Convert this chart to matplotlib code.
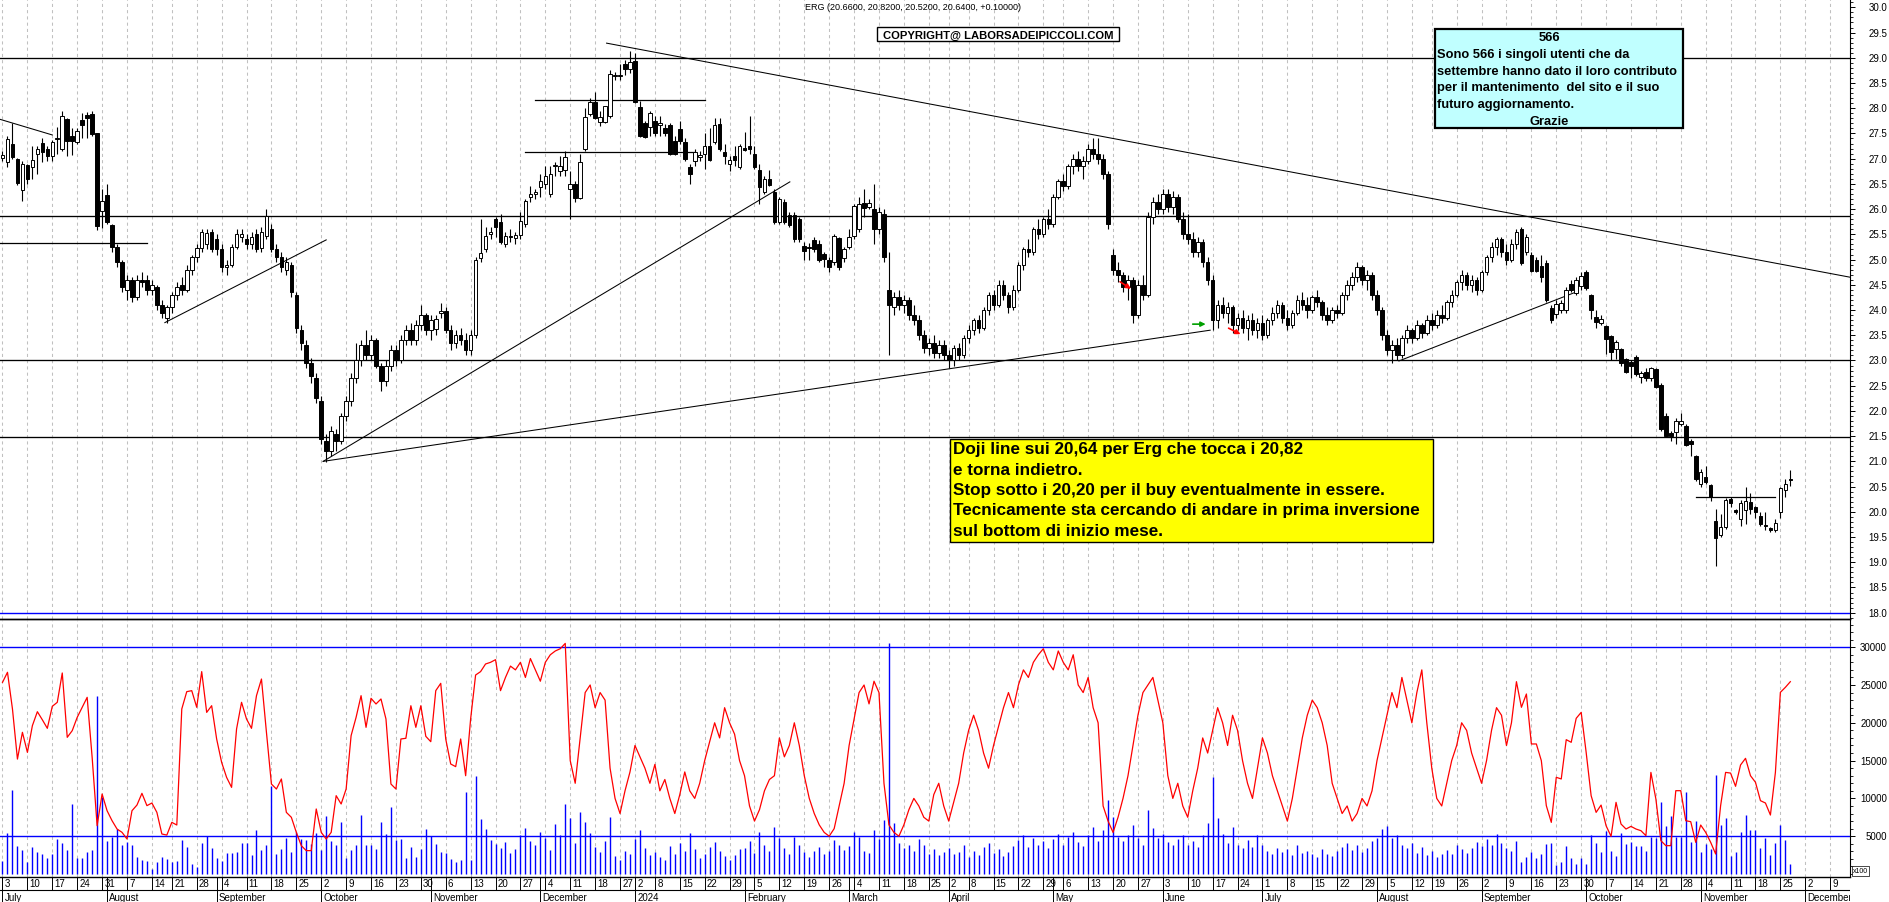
import matplotlib
matplotlib.use("Agg")
import matplotlib.pyplot as plt
import matplotlib.transforms as mtransforms
from matplotlib.patches import Rectangle
from matplotlib.ticker import MultipleLocator, FixedLocator
import numpy as np
import pandas as pd

plt.rcParams['font.family'] = ['Liberation Sans', 'DejaVu Sans']

W, H = 1890, 903

# ---- daily ERG candles, 3 Jul 2023 .. 27 Nov 2024 (one line per month) ----
opens = [
    27.02, 26.93, 27.29, 27.00, 26.37, 26.87, 26.84, 27.10, 27.32, 27.20, 27.05, 27.38, 27.19, 27.78, 27.45, 27.33, 27.76, 27.87, 27.88, 27.50, 25.96,
    26.28, 25.68, 25.25, 24.95, 24.40, 24.60, 24.25, 24.60, 24.60, 24.40, 24.45, 24.10, 23.85, 24.05, 24.30, 24.50, 24.40, 24.80, 25.05, 25.22, 25.30, 25.55,
    25.40, 25.20, 24.85, 24.90, 25.25, 25.45, 25.40, 25.30, 25.50, 25.22, 25.47, 25.60, 25.20, 25.05, 24.80, 24.90, 24.30, 23.60, 23.30, 22.95, 22.65,
    22.20, 21.40, 21.20, 21.55, 21.40, 21.90, 22.20, 22.65, 23.00, 23.30, 23.10, 23.40, 22.90, 22.60, 22.90, 23.20, 23.00, 23.40, 23.60, 23.40, 23.70, 23.90,
    23.60, 23.62, 23.95, 23.98, 23.60, 23.35, 23.50, 23.40, 23.20, 23.50, 25.03, 25.20, 25.50, 25.80, 25.74, 25.30, 25.46, 25.42, 25.49, 25.70, 26.25, 26.30,
    26.43, 26.50, 26.30, 26.86, 26.75, 26.77, 26.40, 26.50, 26.22, 27.20, 27.88, 28.12, 27.72, 27.73, 27.84, 28.64, 28.64, 28.88, 28.78,
    28.94, 28.02, 27.70, 27.63, 27.75, 27.66, 27.60, 27.67, 27.36, 27.58, 27.33, 26.83, 26.95, 27.03, 27.10, 27.25, 27.33, 27.69, 27.14, 26.90, 27.06, 26.83,
    27.22, 27.25, 27.10, 26.78, 26.34, 26.60, 26.34, 25.74, 26.14, 25.88, 25.88, 25.80, 25.27, 25.25, 25.38, 25.30, 25.12, 25.00, 24.95, 25.43, 25.03,
    25.25, 25.47, 25.60, 26.13, 26.05, 26.00, 25.60, 25.90, 24.40, 24.05, 24.25, 24.10, 24.20, 23.90, 23.80, 23.50, 23.25, 23.35, 23.15, 23.30,
    23.10, 23.00, 23.25, 23.10, 23.45, 23.60, 23.80, 23.65, 24.00, 24.30, 24.10, 24.50, 24.30, 24.05, 24.40, 24.90, 25.20, 25.15, 25.60, 25.50, 25.80,
    25.70, 26.25, 26.55, 26.45, 26.85, 27.00, 26.85, 26.95, 27.20, 27.10, 27.00, 26.70, 25.10, 24.80, 24.70, 24.45, 24.60, 23.90, 24.50, 24.30, 25.85, 26.15,
    26.00, 26.30, 26.05, 26.25, 25.80, 25.50, 25.40, 25.15, 25.35, 24.95, 24.60, 23.80, 24.10, 23.95, 24.05, 23.70, 23.85, 23.65, 23.80, 23.60,
    23.75, 23.50, 23.80, 23.95, 24.10, 23.85, 23.70, 23.95, 24.20, 24.10, 24.00, 24.25, 24.15, 23.90, 23.80, 24.00, 23.95, 24.30, 24.50, 24.65, 24.85, 24.60, 24.70,
    24.30, 24.00, 23.50, 23.20, 23.30, 23.10, 23.45, 23.60, 23.45, 23.70, 23.55, 23.80, 23.70, 23.90, 23.85, 24.15, 24.30, 24.55, 24.70, 24.50, 24.60,
    24.40, 24.75, 25.05, 25.25, 25.40, 25.15, 25.00, 25.30, 25.60, 25.15, 25.10, 25.00, 24.87, 24.94, 24.04, 23.92, 24.00, 24.00, 24.52, 24.33, 24.47,
    24.75, 24.30, 23.86, 23.75, 23.68, 23.48, 23.22, 23.22, 23.02, 22.97, 23.07, 22.68, 22.77, 22.66, 22.84, 22.52, 21.90, 21.56, 21.58, 21.75, 21.70, 21.40, 21.10,
    20.55, 20.69, 20.53, 19.82, 19.55, 19.70, 20.25, 20.03, 19.86, 20.04, 20.20, 20.10, 19.92, 19.74, 19.68, 19.63, 20.00, 20.43, 20.66,
]
highs = [
    27.15, 27.45, 27.70, 27.02, 26.95, 26.90, 27.25, 27.25, 27.40, 27.25, 27.37, 27.63, 27.95, 27.80, 27.60, 27.60, 27.90, 27.92, 27.95, 27.50, 26.40,
    26.50, 25.70, 25.30, 25.00, 24.70, 24.65, 24.70, 24.75, 24.70, 24.60, 24.50, 24.20, 24.10, 24.35, 24.55, 24.65, 24.90, 25.10, 25.30, 25.60, 25.60, 25.60,
    25.50, 25.30, 25.00, 25.30, 25.60, 25.60, 25.50, 25.55, 25.60, 25.65, 26.00, 25.70, 25.30, 25.15, 25.05, 24.95, 24.35, 23.70, 23.40, 23.05, 22.75,
    22.30, 21.55, 21.70, 21.65, 21.95, 22.30, 22.75, 23.35, 23.40, 23.60, 23.50, 23.45, 22.95, 23.00, 23.30, 23.30, 23.50, 23.70, 23.75, 23.80, 24.10, 23.95,
    23.90, 23.90, 24.13, 24.05, 23.70, 23.60, 23.65, 23.55, 23.60, 25.05, 25.80, 25.65, 25.65, 25.85, 25.90, 25.55, 25.60, 25.55, 25.95, 26.20, 26.45, 26.40,
    26.70, 26.85, 26.85, 26.93, 27.05, 27.15, 26.75, 26.55, 27.10, 28.00, 28.20, 28.33, 27.95, 28.05, 28.75, 28.72, 28.88, 28.95, 29.13,
    29.10, 28.15, 27.75, 27.95, 27.85, 27.85, 27.68, 27.70, 27.45, 27.75, 27.40, 26.90, 27.20, 27.15, 27.50, 27.60, 27.80, 27.80, 27.30, 27.05, 27.25, 27.30,
    27.52, 27.85, 27.25, 26.90, 26.65, 26.78, 26.40, 26.25, 26.20, 25.95, 25.95, 25.85, 25.35, 25.33, 25.45, 25.38, 25.15, 25.05, 25.50, 25.45, 25.25,
    25.60, 26.10, 26.25, 26.40, 26.20, 26.50, 26.05, 26.00, 25.15, 24.35, 24.40, 24.30, 24.25, 24.10, 23.90, 23.60, 23.45, 23.50, 23.40, 23.40,
    23.20, 23.30, 23.35, 23.50, 23.70, 23.85, 23.90, 24.05, 24.35, 24.40, 24.60, 24.60, 24.35, 24.50, 24.95, 25.25, 25.40, 25.65, 25.80, 25.85, 26.00,
    26.30, 26.60, 26.70, 26.90, 27.10, 27.15, 27.05, 27.30, 27.40, 27.40, 27.10, 26.75, 25.20, 24.95, 24.75, 24.70, 24.65, 24.60, 24.70, 25.95, 26.25, 26.30,
    26.40, 26.40, 26.35, 26.30, 25.95, 25.90, 25.55, 25.45, 25.40, 25.05, 24.70, 24.20, 24.25, 24.15, 24.10, 23.95, 24.00, 23.90, 23.95, 23.85,
    23.90, 23.85, 24.05, 24.20, 24.15, 24.00, 24.00, 24.30, 24.35, 24.25, 24.30, 24.40, 24.20, 24.05, 24.05, 24.10, 24.35, 24.60, 24.75, 24.95, 24.90, 24.80, 24.75,
    24.40, 24.05, 23.60, 23.40, 23.45, 23.50, 23.70, 23.65, 23.80, 23.75, 23.90, 23.95, 24.00, 24.10, 24.20, 24.40, 24.60, 24.80, 24.75, 24.70, 24.65,
    24.80, 25.10, 25.35, 25.45, 25.45, 25.30, 25.40, 25.60, 25.65, 25.50, 25.15, 25.05, 25.10, 25.00, 24.10, 24.20, 24.20, 24.45, 24.60, 24.65, 24.75,
    24.80, 24.32, 24.00, 23.90, 23.70, 23.50, 23.40, 23.25, 23.05, 23.01, 23.10, 22.80, 22.85, 22.88, 22.86, 22.55, 21.95, 21.60, 21.85, 21.95, 21.75, 21.45, 21.12,
    20.85, 20.90, 20.55, 20.05, 19.95, 20.28, 20.30, 20.05, 20.23, 20.50, 20.38, 20.12, 20.00, 20.00, 19.70, 19.85, 20.50, 20.65, 20.82,
]
lows = [
    26.95, 26.83, 27.00, 26.48, 26.16, 26.50, 26.60, 26.70, 26.94, 26.95, 26.95, 27.10, 27.15, 27.06, 27.07, 27.30, 27.40, 27.40, 27.45, 25.58, 25.62,
    25.70, 25.15, 24.85, 24.35, 24.20, 24.15, 24.20, 24.45, 24.30, 24.30, 24.00, 23.85, 23.75, 23.95, 24.20, 24.30, 24.35, 24.70, 24.95, 25.15, 25.20, 25.15,
    25.10, 24.75, 24.70, 24.85, 25.20, 25.35, 25.20, 25.20, 25.15, 25.15, 25.40, 25.15, 24.95, 24.75, 24.70, 24.25, 23.55, 23.20, 22.85, 22.55, 22.15,
    21.35, 20.98, 21.10, 21.20, 21.35, 21.80, 22.10, 22.55, 22.90, 23.00, 23.00, 22.85, 22.40, 22.50, 22.80, 22.90, 22.95, 23.30, 23.30, 23.30, 23.60, 23.50,
    23.40, 23.50, 23.85, 23.55, 23.20, 23.25, 23.30, 23.10, 23.10, 23.45, 24.95, 25.15, 25.40, 25.45, 25.30, 25.25, 25.35, 25.30, 25.40, 25.65, 26.15, 26.20,
    26.25, 26.40, 26.25, 26.65, 26.65, 26.65, 25.80, 26.15, 26.20, 27.15, 27.85, 27.78, 27.65, 27.70, 27.80, 28.55, 28.55, 28.65, 28.70,
    28.10, 27.42, 27.40, 27.45, 27.45, 27.45, 27.45, 27.08, 27.08, 27.30, 26.95, 26.50, 26.85, 26.95, 26.80, 26.95, 27.30, 27.15, 26.90, 26.75, 26.85, 26.80,
    27.15, 27.10, 26.80, 26.10, 26.30, 26.45, 25.70, 25.70, 25.70, 25.65, 25.35, 25.35, 25.00, 25.00, 25.15, 24.95, 24.85, 24.75, 24.90, 24.80, 24.95,
    25.20, 25.40, 25.55, 25.85, 26.00, 25.30, 25.50, 24.95, 23.10, 23.90, 24.00, 23.95, 23.80, 23.70, 23.40, 23.15, 23.10, 23.05, 23.05, 23.00,
    22.85, 22.90, 23.00, 23.05, 23.35, 23.50, 23.55, 23.60, 23.90, 24.00, 24.05, 24.20, 23.95, 24.00, 24.35, 24.80, 25.05, 25.10, 25.40, 25.45, 25.60,
    25.65, 26.20, 26.35, 26.40, 26.70, 26.75, 26.60, 26.90, 27.00, 26.90, 26.60, 25.60, 24.70, 24.55, 24.35, 24.20, 23.75, 23.85, 24.20, 24.25, 25.70, 25.90,
    25.90, 25.95, 25.90, 25.75, 25.40, 25.30, 25.05, 25.05, 24.85, 24.50, 23.60, 23.65, 23.85, 23.75, 23.55, 23.60, 23.55, 23.40, 23.50, 23.45,
    23.40, 23.45, 23.70, 23.85, 23.75, 23.60, 23.65, 23.90, 24.00, 23.85, 23.95, 24.05, 23.80, 23.70, 23.75, 23.85, 23.90, 24.20, 24.40, 24.55, 24.50, 24.40, 24.20,
    23.90, 23.40, 23.10, 22.95, 23.00, 23.05, 23.35, 23.35, 23.40, 23.45, 23.50, 23.60, 23.65, 23.75, 23.80, 24.05, 24.25, 24.40, 24.40, 24.35, 24.30,
    24.35, 24.70, 24.95, 25.10, 25.05, 24.90, 24.95, 25.20, 24.90, 25.10, 24.75, 24.75, 24.55, 24.15, 23.75, 23.85, 23.95, 23.95, 24.35, 24.30, 24.40,
    24.40, 23.82, 23.65, 23.70, 23.12, 23.00, 23.02, 22.90, 22.75, 22.65, 22.70, 22.55, 22.60, 22.60, 22.45, 21.60, 21.48, 21.40, 21.35, 21.70, 21.30, 21.10, 20.62,
    20.50, 20.55, 20.22, 18.92, 19.50, 19.65, 20.10, 19.95, 19.72, 19.75, 19.95, 19.87, 19.72, 19.63, 19.60, 19.60, 19.88, 20.30, 20.52,
]
closes = [
    27.08, 27.39, 27.03, 26.52, 26.90, 26.60, 26.97, 27.20, 27.13, 27.05, 27.33, 27.40, 27.84, 27.36, 27.36, 27.54, 27.67, 27.80, 27.49, 25.66, 26.16,
    25.74, 25.25, 24.95, 24.45, 24.60, 24.25, 24.60, 24.55, 24.40, 24.50, 24.10, 23.95, 24.05, 24.30, 24.45, 24.40, 24.80, 25.05, 25.22, 25.55, 25.52, 25.20,
    25.20, 24.85, 24.90, 25.25, 25.50, 25.50, 25.30, 25.45, 25.20, 25.55, 25.86, 25.20, 25.05, 24.85, 24.95, 24.35, 23.65, 23.35, 22.95, 22.70, 22.25,
    21.45, 21.20, 21.60, 21.40, 21.90, 22.20, 22.65, 23.00, 23.30, 23.10, 23.40, 22.90, 22.60, 22.90, 23.20, 23.00, 23.40, 23.60, 23.40, 23.70, 23.90, 23.60,
    23.80, 23.82, 23.98, 23.60, 23.35, 23.50, 23.40, 23.20, 23.50, 25.00, 25.13, 25.46, 25.55, 25.64, 25.35, 25.46, 25.44, 25.48, 25.77, 26.17, 26.30, 26.33,
    26.56, 26.65, 26.70, 26.86, 26.85, 27.03, 26.50, 26.22, 26.93, 27.82, 28.12, 27.80, 27.82, 28.04, 28.68, 28.64, 28.66, 28.78, 28.91,
    28.12, 27.45, 27.43, 27.90, 27.50, 27.70, 27.50, 27.10, 27.10, 27.35, 27.00, 26.70, 27.13, 27.07, 27.25, 26.98, 27.66, 27.19, 27.06, 26.97, 26.98, 27.25,
    27.18, 27.20, 26.83, 26.44, 26.60, 26.47, 25.74, 26.20, 25.74, 25.68, 25.40, 25.40, 25.17, 25.22, 25.20, 25.00, 25.02, 24.85, 25.47, 24.85, 25.20,
    25.45, 26.07, 26.10, 26.03, 26.12, 25.60, 25.95, 25.05, 24.10, 24.25, 24.10, 24.20, 23.90, 23.80, 23.50, 23.25, 23.35, 23.15, 23.30, 23.10,
    23.00, 23.25, 23.10, 23.45, 23.60, 23.80, 23.65, 24.00, 24.30, 24.10, 24.50, 24.30, 24.05, 24.40, 24.90, 25.20, 25.15, 25.60, 25.50, 25.80, 25.70,
    26.25, 26.55, 26.45, 26.85, 27.00, 26.85, 26.95, 27.20, 27.10, 27.00, 26.70, 25.70, 24.80, 24.70, 24.45, 24.60, 23.90, 24.50, 24.30, 25.85, 26.15, 26.00,
    26.30, 26.05, 26.25, 25.80, 25.50, 25.40, 25.15, 25.35, 24.95, 24.60, 23.80, 24.10, 23.95, 24.05, 23.70, 23.85, 23.65, 23.80, 23.60, 23.75,
    23.50, 23.80, 23.95, 24.10, 23.85, 23.70, 23.95, 24.20, 24.10, 24.00, 24.25, 24.15, 23.90, 23.80, 24.00, 23.95, 24.30, 24.50, 24.65, 24.85, 24.60, 24.70, 24.30,
    24.00, 23.50, 23.20, 23.30, 23.10, 23.45, 23.60, 23.45, 23.70, 23.55, 23.80, 23.70, 23.90, 23.85, 24.15, 24.30, 24.55, 24.70, 24.50, 24.60, 24.40,
    24.75, 25.05, 25.25, 25.40, 25.15, 25.00, 25.30, 25.55, 24.94, 25.44, 24.77, 24.77, 24.65, 24.20, 23.80, 24.12, 24.14, 24.40, 24.40, 24.60, 24.67,
    24.44, 24.00, 23.76, 23.83, 23.43, 23.16, 23.36, 22.95, 22.78, 22.90, 22.73, 22.75, 22.65, 22.85, 22.48, 21.64, 21.50, 21.50, 21.80, 21.80, 21.33, 21.35, 20.65,
    20.79, 20.60, 20.29, 19.48, 19.70, 20.23, 20.18, 20.00, 20.18, 20.22, 20.05, 20.00, 19.75, 19.72, 19.63, 19.77, 20.47, 20.55, 20.64,
]
# volume (x100), blue bars
volume = [
    1760, 5380, 11110, 3750, 3170, 1540, 3530, 2870, 2650, 2070, 2650, 4630, 4100, 3220, 9260, 2110, 2110, 2960, 3220, 23590, 10140,
    4410, 4850, 5950, 3840, 4190, 3840, 2200, 1850, 1680, 660, 1540, 2200, 1980, 1630, 1760, 4540, 3620, 1320, 970, 4100, 5070, 3390,
    2110, 1760, 2780, 2780, 2960, 4100, 4100, 2510, 5820, 3220, 3840, 11680, 2650, 3310, 4760, 2960, 5600, 4630, 4500, 3970, 5380,
    3170, 7720, 4410, 3840, 6920, 2110, 3170, 3840, 7800, 3840, 3840, 3310, 6830, 5290, 8820, 4540, 4630, 2110, 3620, 2290, 3310, 5950,
    5070, 3970, 2870, 2780, 1980, 1630, 1900, 10890, 1900, 13000, 7280, 5950, 4540, 3970, 3500, 4200, 2800, 3300, 5200, 6100, 4400, 3900,
    5600, 4800, 3200, 6600, 5200, 9300, 7400, 4100, 8200, 6900, 5400, 3600, 2900, 4300, 7600, 2400, 1900, 3100, 2600,
    4600, 5800, 3400, 2500, 2900, 2200, 1800, 3700, 2600, 4100, 3000, 5400, 3300, 2100, 2700, 3600, 4200, 3100, 2400, 1900, 2500, 3300,
    3500, 4400, 2800, 5600, 3900, 3000, 6200, 4700, 3400, 2700, 4900, 3800, 2900, 2300, 3100, 3600, 2600, 3000, 4500, 3900, 3200,
    3700, 5500, 4900, 3100, 2800, 5800, 4600, 7200, 30500, 6800, 4100, 3500, 3900, 3000, 4600, 3800, 2700, 3300, 2500, 2900,
    3400, 2600, 2900, 3800, 2200, 3100, 2500, 3600, 4100, 2800, 3300, 2400, 2900, 3700, 4500, 5200, 3600, 4800, 3900, 4300, 3500,
    4600, 5300, 3800, 4900, 5600, 4200, 3700, 5100, 6200, 4400, 5800, 9800, 7600, 4900, 4300, 5200, 6500, 4700, 3900, 8400, 6100, 4800,
    5300, 4200, 3800, 4600, 5100, 3900, 4400, 3600, 5200, 6800, 12800, 7400, 5300, 4100, 6200, 3900, 3400, 4500, 3600, 5100,
    3900, 3100, 2700, 3500, 2900, 3300, 2500, 3800, 2800, 3100, 2600, 2200, 3300, 2700, 2400, 3000, 3600, 4100, 3200, 3800, 2900, 3500, 4300,
    4800, 5900, 6300, 4700, 5200, 3900, 3400, 4100, 2800, 3600, 2500, 3000, 2200, 2600, 3200, 2700, 3900, 3300, 2800, 3400, 4200,
    3700, 4600, 3900, 5300, 4100, 3500, 3000, 4400, 1540, 2200, 2870, 2070, 2650, 3970, 4100, 1190, 1630, 3750, 2070, 1320, 2070,
    1320, 5150, 4100, 2960, 5730, 3090, 2420, 5420, 3970, 4280, 3750, 3750, 3090, 4940, 4720, 9480, 6300, 7720, 4940, 4850, 10800, 4190, 7050,
    2960, 3970, 3310, 13090, 6480, 7360, 2400, 2960, 5600, 7800, 5820, 5820, 3440, 4720, 2510, 4100, 6480, 4540, 1320,
]
# red line in the volume pane
vol_line = [
    25350, 26680, 21830, 15200, 18740, 16090, 19620, 21470, 20400, 19270, 22180, 22710, 26590, 18080, 18960, 20720, 22050, 23370, 15430, 6390, 10580,
    8370, 7050, 5950, 5510, 4630, 8370, 9120, 10670, 9040, 9390, 8150, 5290, 5150, 6830, 6480, 21830, 24120, 24250, 22050, 26770, 21380, 22260,
    17860, 14770, 12780, 11460, 19180, 22710, 20500, 19270, 23590, 25790, 18740, 11900, 11240, 12570, 8150, 7500, 5510, 3750, 3090, 3090, 8600,
    5510, 4630, 5510, 10360, 9260, 11240, 18300, 20720, 23590, 19400, 23240, 22490, 23150, 20500, 11900, 11240, 17860, 17950, 22260, 19400, 22260, 18210,
    17500, 24250, 25220, 17860, 14550, 14200, 17860, 13000, 20500, 26320, 26770, 27780, 28000, 28350, 24250, 26000, 27500, 27000, 28000, 26000, 28500, 27000,
    25500, 28000, 29000, 29500, 29800, 30500, 15000, 12000, 18000, 24000, 25000, 22000, 24000, 23000, 14000, 10000, 8000, 11000, 13500,
    17000, 15500, 14000, 12000, 14500, 11000, 12500, 10000, 8000, 10500, 13500, 11000, 10000, 12000, 15000, 17500, 20000, 18000, 22000, 20000, 18500, 15000,
    13000, 9000, 7000, 8500, 11000, 12500, 13000, 18000, 15500, 17000, 20000, 17000, 13000, 10000, 8000, 6500, 5500, 5000, 6000, 9000, 12000,
    17000, 20500, 24000, 25000, 22500, 25500, 24000, 12000, 6500, 5500, 5000, 6500, 8500, 10000, 9000, 7500, 7000, 10500, 12000, 9000,
    7000, 9500, 12000, 16000, 19000, 21000, 19000, 16000, 14000, 17000, 19500, 22000, 24000, 22000, 25000, 27000, 26000, 28000, 29000, 29800, 28000,
    27000, 29500, 28000, 27000, 29000, 25000, 24000, 26000, 22000, 20000, 9000, 7000, 5500, 7500, 10000, 13000, 17000, 21000, 24000, 25000, 26000, 23000,
    20000, 13000, 10000, 12000, 9000, 7500, 11000, 14000, 18000, 16000, 19000, 22000, 20000, 17000, 21000, 19000, 15000, 12000, 10000, 14000,
    18000, 16000, 13000, 11000, 9000, 7000, 10000, 14000, 18000, 21000, 23000, 22000, 20000, 17000, 12000, 10000, 8000, 9000, 7000, 8000, 10000, 9000, 11000,
    15000, 18000, 21000, 24000, 22000, 26000, 23000, 20000, 24000, 27000, 20000, 14000, 10000, 9000, 12000, 15000, 17000, 20000, 19000, 16000, 14000,
    12000, 15000, 19000, 22000, 21000, 17000, 20000, 25440, 22050, 23810, 17200, 17200, 14990, 9040, 6830, 12790, 12570, 17770, 17420, 20590, 21380,
    16090, 10360, 8150, 9120, 6390, 4980, 9480, 6610, 5950, 6300, 5950, 5730, 5070, 13440, 9920, 4410, 3750, 3750, 11020, 11020, 7050, 6920, 4190,
    6480, 5510, 4190, 2650, 9040, 13440, 13350, 11600, 14420, 15300, 13000, 12130, 9700, 9390, 7800, 13440, 24030, 24690, 25440,
]

# drawn analysis lines (slot index, price)
levels = [28.99, 25.86, 23.0, 21.48]
short_levels = [(-0.5, 29, 25.33), (107, 141, 28.16), (105, 139, 27.13), (340, 356, 20.29)]
trend_lines = [((-0.5, 27.78), (10, 27.47)),
               ((32.6, 23.75), (65, 25.39)),
               ((64.4, 21.0), (158.1, 26.54)),
               ((64.4, 21.0), (242.5, 23.6)),
               ((121.3, 29.29), (371, 24.65)),
               ((280.4, 22.99), (315.8, 24.35))]

month_names = ['January', 'February', 'March', 'April', 'May', 'June', 'July',
               'August', 'September', 'October', 'November', 'December']

# Borsa Italiana trading calendar
closed = pd.to_datetime(['2023-08-15', '2023-12-25', '2023-12-26', '2024-01-01',
                         '2024-03-29', '2024-04-01', '2024-05-01', '2024-08-15'])
cal = pd.bdate_range('2023-07-03', '2024-12-13')
cal = cal[~cal.isin(closed)]

x = np.arange(len(closes))
o, h, l, c = (np.array(v) for v in (opens, highs, lows, closes))

def fx(px):
    return px / W

def fy(py):
    return 1 - py / H

XL = (-0.502, 370.98)
fig = plt.figure(figsize=(W / 100, H / 100), dpi=100)
ax = fig.add_axes([0, fy(620), fx(1850), 620 / H])
axv = fig.add_axes([0, fy(878), fx(1850), 258 / H])
axd = fig.add_axes([0, 0, fx(1850), 25 / H])
for a in (ax, axv, axd):
    a.set_xlim(*XL)
    a.set_xticks([])
    a.patch.set_alpha(0)

ax.set_ylim(17.875, 30.165)
axv.set_ylim(-397, 33730)

# week / month boundaries
week_first, month_first = [], []
for i, d in enumerate(cal):
    if i == 0 or d.isocalendar()[1] != cal[i - 1].isocalendar()[1]:
        week_first.append(i)
    if i == 0 or d.month != cal[i - 1].month:
        month_first.append(i)

for a in (ax, axv):
    for s in week_first:
        a.axvline(s, color='#c0c0c0', lw=0.75, dashes=(3, 3), zorder=0)

# candles
ax.vlines(x, l, h, color='black', lw=0.8, zorder=2)
body_lo = np.minimum(o, c)
body_h = np.maximum(np.abs(c - o), 0.015)
ax.bar(x, body_h, bottom=body_lo, width=0.72,
       color=np.where(c >= o, 'white', 'black'), edgecolor='black', linewidth=0.7, zorder=3)

for lv in levels:
    ax.axhline(lv, color='black', lw=0.95, zorder=1)
ax.axhline(18.0, color='#0000ff', lw=1.0, zorder=1)
for x0, x1, lv in short_levels:
    ax.plot([x0, x1], [lv, lv], color='black', lw=0.9, zorder=1)
for (x0, y0), (x1, y1) in trend_lines:
    ax.plot([x0, x1], [y0, y1], color='black', lw=0.75, zorder=1)

# little arrows
arrow_kw = dict(arrowstyle='-|>', lw=1.2, mutation_scale=7, shrinkA=0, shrinkB=0)
ax.annotate('', xy=(241.6, 23.72), xytext=(239.0, 23.72),
            arrowprops=dict(color='#00a000', **arrow_kw), zorder=5)
ax.annotate('', xy=(248.6, 23.52), xytext=(246.2, 23.64),
            arrowprops=dict(color='#ff0000', **arrow_kw), zorder=5)
ax.annotate('', xy=(226.6, 24.42), xytext=(224.4, 24.56),
            arrowprops=dict(color='#ff0000', **arrow_kw), zorder=5)

# volume pane
axv.vlines(x, 0, volume, color='#0000ff', lw=1.0, zorder=2)
axv.plot(x, vol_line, color='#ff0000', lw=0.9, zorder=3)
axv.axhline(30000, color='#0000ff', lw=1.0, zorder=1)
axv.axhline(5000, color='#0000ff', lw=1.0, zorder=1)

# spines and right-hand scales
for a in (ax, axv):
    a.spines['left'].set_visible(False)
    a.spines['right'].set_linewidth(0.8)
    a.spines['bottom'].set_linewidth(1.0)
    a.yaxis.tick_right()
    a.tick_params(axis='y', which='major', direction='out', length=3.5, width=0.7, labelright=False)
    a.tick_params(axis='y', which='minor', direction='out', length=2, width=0.6)
    a.tick_params(axis='x', which='both', bottom=False)
ax.spines['top'].set_visible(False)
axv.spines['top'].set_linewidth(1.0)

ax.yaxis.set_major_locator(MultipleLocator(0.5))
ax.yaxis.set_minor_locator(MultipleLocator(0.1))
axv.yaxis.set_major_locator(FixedLocator(range(5000, 30001, 5000)))
axv.yaxis.set_minor_locator(FixedLocator(range(0, 33001, 1000)))

lab_x = 1887 / 1850
tr = mtransforms.blended_transform_factory(ax.transAxes, ax.transData)
for v in np.arange(18.0, 30.01, 0.5):
    ax.text(lab_x, v, f'{v:.1f}', transform=tr, ha='right', va='center', fontsize=7, clip_on=False)
trv = mtransforms.blended_transform_factory(axv.transAxes, axv.transData)
for v in range(5000, 30001, 5000):
    axv.text(lab_x, v, str(v), transform=trv, ha='right', va='center', fontsize=7, clip_on=False)

# date rows
axd.set_ylim(0, 1)
axd.axis('off')
axd.axhline(0.48, color='black', lw=0.8)
for s in week_first:
    if s <= XL[1]:
        axd.plot([s, s], [0.48, 1], color='black', lw=0.7)
        axd.text(s + 0.45, 0.74, str(cal[s].day), ha='left', va='center', fontsize=7)
for s in month_first:
    if s <= XL[1]:
        axd.plot([s, s], [0, 1], color='black', lw=0.7)
        d = cal[s]
        name = str(d.year) if d.month == 1 else month_names[d.month - 1]
        axd.text(s + 0.45, 0.2, name, ha='left', va='center', fontsize=7, clip_on=True)

# texts and boxes
fig.text(fx(805), fy(8), 'ERG (20.6600, 20.8200, 20.5200, 20.6400, +0.10000)',
         ha='left', va='center', fontsize=6.5)

def box(x0, y0, x1, y1, fc, lw):
    fig.add_artist(Rectangle((fx(x0), fy(y1)), fx(x1 - x0), (y1 - y0) / H,
                             transform=fig.transFigure, fc=fc, ec='black', lw=lw))

box(877, 28, 1119, 42, 'white', 1.0)
fig.text(fx(998), fy(35.5), 'COPYRIGHT@ LABORSADEIPICCOLI.COM', ha='center', va='center',
         fontsize=8.1, fontweight='bold')

box(1435, 30, 1683, 129, '#c0ffff', 1.6)
cyan_lines = ['566', 'Sono 566 i singoli utenti che da', 'settembre hanno dato il loro contributo',
              'per il mantenimento  del sito e il suo', 'futuro aggiornamento.', 'Grazie']
for k, t in enumerate(cyan_lines):
    yy = 38.3 + k * 16.7
    if k in (0, 5):
        fig.text(fx(1549), fy(yy), t, ha='center', va='center', fontsize=9.3, fontweight='bold')
    else:
        fig.text(fx(1437), fy(yy), t, ha='left', va='center', fontsize=9.3, fontweight='bold')

box(950, 440, 1433, 543, '#ffff00', 1.0)
yellow_lines = ['Doji line sui 20,64 per Erg che tocca i 20,82', 'e torna indietro.',
                'Stop sotto i 20,20 per il buy eventualmente in essere.',
                'Tecnicamente sta cercando di andare in prima inversione',
                'sul bottom di inizio mese.']
for k, t in enumerate(yellow_lines):
    fig.text(fx(953), fy(450 + k * 20.3), t, ha='left', va='center', fontsize=12.3, fontweight='bold')

fig.text(fx(1853), fy(872), 'x100', ha='left', va='center', fontsize=5,
         bbox=dict(boxstyle='square,pad=0.15', fc='white', ec='black', lw=0.5))

fig.savefig('out.png', dpi=100)
